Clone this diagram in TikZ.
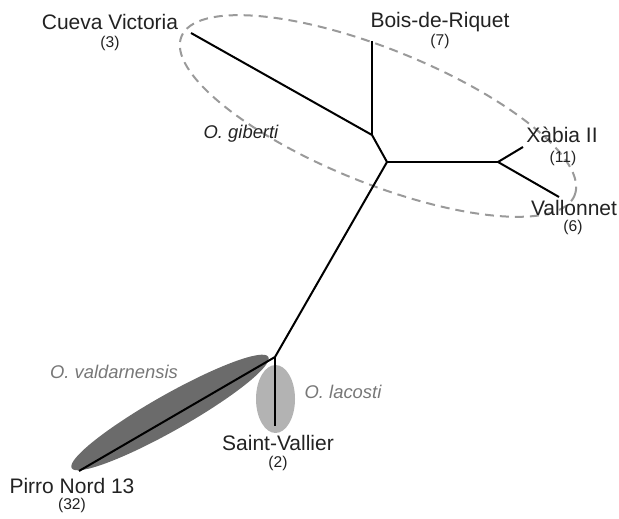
\documentclass[tikz,border=0pt]{standalone}
\usepackage{fontspec}
\setmainfont{Liberation Sans}
\definecolor{labelgray}{HTML}{222222}
\definecolor{cladegray}{HTML}{777777}
\definecolor{dashgray}{HTML}{9A9A9A}
\definecolor{valdfill}{HTML}{6B6B6B}
\definecolor{lacofill}{HTML}{B3B3B3}

\begin{document}
\begin{tikzpicture}[
    x=0.5pt, y=0.5pt,
    every node/.style={inner sep=0pt, text=labelgray},
    site/.style={font=\fontsize{10.5}{12}\selectfont, anchor=base},
    count/.style={font=\fontsize{7.8}{9}\selectfont, anchor=base},
    species/.style={font=\fontsize{9.2}{11}\selectfont\itshape, anchor=base},
    branch/.style={line width=1pt, black}
]
\useasboundingbox (0,0) rectangle (619,518);
% clade outlines
\draw[dashgray, line width=1pt, dash pattern=on 4.5pt off 3pt, rotate around={-22:(378,402)}]
    (378,402) ellipse (212 and 67);
\fill[valdfill, rotate around={29.5:(170,105.5)}] (170,105.5) ellipse (113 and 18);
\fill[lacofill] (275.5,119) ellipse (19.5 and 34);
% tree
\coordinate (nA) at (372,383);
\coordinate (nB) at (387,356);
\coordinate (nC) at (498,356);
\coordinate (nD) at (275,161);
\coordinate (cv) at (191,485);
\coordinate (br) at (372,477);
\coordinate (xb) at (523,371);
\coordinate (vl) at (559,321);
\coordinate (pn) at (79,47);
\coordinate (sv) at (275,92);
\draw[branch] (cv) -- (nA);
\draw[branch] (br) -- (nA);
\draw[branch] (nA) -- (nB);
\draw[branch] (nB) -- (nC);
\draw[branch] (nC) -- (xb);
\draw[branch] (nC) -- (vl);
\draw[branch] (nB) -- (nD);
\draw[branch] (nD) -- (pn);
\draw[branch] (nD) -- (sv);
% sites
\node (cvlab) [site] at (110,488) {Cueva Victoria};
\node (cvnum) [count] at (110,470) {(3)};
\node (brlab) [site] at (440,490) {Bois-de-Riquet};
\node (brnum) [count] at (440,472) {(7)};
\node (xblab) [site] at (562,375) {Xàbia II};
\node (xbnum) [count] at (563,355) {(11)};
\node (vllab) [site] at (574,302) {Vallonnet};
\node (vlnum) [count] at (573,286) {(6)};
\node (pnlab) [site] at (72,25) {Pirro Nord 13};
\node (pnnum) [count] at (72,9) {(32)};
\node (svlab) [site] at (278,68) {Saint-Vallier};
\node (svnum) [count] at (278,51) {(2)};
% species
\node (gib) [species] at (241,379) {O. giberti};
\node (vald) [species, text=cladegray] at (114,139) {O. valdarnensis};
\node (laco) [species, text=cladegray] at (343,119) {O. lacosti};
\end{tikzpicture}
\end{document}
